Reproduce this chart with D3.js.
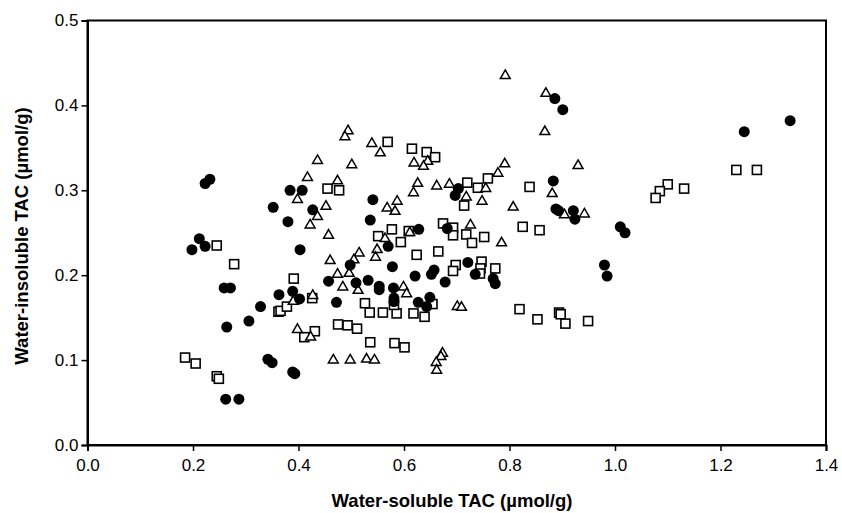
<!DOCTYPE html>
<html><head><meta charset="utf-8">
<script src="https://cdn.jsdelivr.net/npm/d3@7"></script>
<style>body{margin:0;background:#fff}svg{display:block}</style>
</head><body>
<script>
const xTicks = [0,0.2,0.4,0.6,0.8,1.0,1.2,1.4];
const yTicks = [0,0.1,0.2,0.3,0.4,0.5];
const xTitle = "Water-soluble TAC (µmol/g)";
const yTitle = "Water-insoluble TAC (µmol/g)";

const circles = [
[0.223,0.308],[0.232,0.313],[0.352,0.280],[0.212,0.243],[0.223,0.234],[0.198,0.230],
[0.259,0.185],[0.271,0.185],[0.328,0.163],[0.363,0.177],[0.306,0.146],[0.264,0.139],
[0.262,0.054],[0.287,0.054],[0.342,0.101],[0.350,0.097],[0.384,0.300],[0.407,0.300],
[0.427,0.277],[0.380,0.263],[0.541,0.289],[0.536,0.265],[0.403,0.230],[0.628,0.254],
[0.570,0.234],[0.498,0.212],[0.578,0.210],[0.657,0.206],[0.652,0.201],[0.621,0.199],
[0.678,0.192],[0.457,0.193],[0.509,0.191],[0.532,0.194],[0.553,0.187],[0.553,0.183],
[0.580,0.185],[0.389,0.181],[0.402,0.172],[0.472,0.168],[0.581,0.173],[0.581,0.169],
[0.627,0.168],[0.643,0.163],[0.649,0.174],[0.389,0.086],[0.393,0.084],[0.886,0.408],
[0.901,0.395],[0.703,0.302],[0.697,0.294],[0.883,0.311],[0.888,0.278],[0.893,0.276],
[0.921,0.276],[0.924,0.266],[0.682,0.255],[1.010,0.257],[1.019,0.250],[0.721,0.215],
[0.735,0.201],[0.769,0.196],[0.773,0.190],[0.980,0.212],[0.985,0.199],[1.245,0.369],
[1.332,0.382]
];
const squares = [
[0.245,0.235],[0.278,0.213],[0.362,0.157],[0.185,0.103],[0.205,0.096],[0.245,0.081],
[0.249,0.078],[0.569,0.357],[0.615,0.349],[0.643,0.345],[0.659,0.339],[0.455,0.302],
[0.477,0.300],[0.674,0.261],[0.577,0.254],[0.609,0.252],[0.551,0.246],[0.594,0.239],
[0.624,0.224],[0.665,0.228],[0.391,0.196],[0.426,0.173],[0.526,0.167],[0.366,0.158],
[0.378,0.163],[0.535,0.156],[0.560,0.156],[0.586,0.155],[0.581,0.165],[0.618,0.155],
[0.639,0.151],[0.654,0.166],[0.411,0.127],[0.431,0.134],[0.475,0.142],[0.493,0.141],
[0.511,0.137],[0.536,0.121],[0.582,0.120],[0.601,0.115],[0.759,0.314],[0.720,0.309],
[0.740,0.303],[0.714,0.282],[0.838,0.304],[0.693,0.256],[0.825,0.257],[0.857,0.253],
[0.693,0.247],[0.718,0.248],[0.729,0.238],[0.752,0.245],[0.698,0.212],[0.693,0.205],
[0.747,0.216],[0.745,0.208],[0.744,0.202],[0.773,0.208],[0.819,0.160],[0.853,0.148],
[0.894,0.156],[0.897,0.154],[0.906,0.143],[0.949,0.146],[1.230,0.324],[1.269,0.324],
[1.100,0.307],[1.085,0.299],[1.077,0.291],[1.131,0.302]
];
const triangles = [
[0.494,0.370],[0.488,0.363],[0.539,0.355],[0.555,0.344],[0.619,0.332],[0.645,0.334],
[0.637,0.328],[0.436,0.335],[0.501,0.330],[0.417,0.315],[0.474,0.311],[0.398,0.289],
[0.626,0.308],[0.618,0.297],[0.662,0.305],[0.686,0.307],[0.452,0.281],[0.436,0.269],
[0.422,0.259],[0.587,0.287],[0.568,0.279],[0.583,0.275],[0.457,0.247],[0.611,0.250],
[0.564,0.243],[0.549,0.230],[0.546,0.221],[0.515,0.226],[0.460,0.217],[0.505,0.218],
[0.474,0.201],[0.496,0.202],[0.599,0.186],[0.484,0.186],[0.513,0.182],[0.605,0.178],
[0.427,0.176],[0.390,0.169],[0.398,0.136],[0.423,0.127],[0.466,0.100],[0.498,0.100],
[0.529,0.101],[0.544,0.100],[0.673,0.108],[0.670,0.104],[0.661,0.097],[0.662,0.088],
[0.792,0.435],[0.869,0.414],[0.867,0.369],[0.791,0.331],[0.778,0.320],[0.930,0.329],
[0.755,0.302],[0.718,0.292],[0.748,0.287],[0.881,0.296],[0.807,0.280],[0.904,0.271],
[0.942,0.272],[0.726,0.259],[0.785,0.238],[0.701,0.163],[0.709,0.162]
];

const W = 842, H = 513;
const m = {left: 87.5, right: 826, top: 20.5, bottom: 445};
const x = d3.scaleLinear().domain([0,1.4]).range([m.left, m.right]);
const y = d3.scaleLinear().domain([0,0.5]).range([m.bottom, m.top]);

const svg = d3.select("body").append("svg").attr("width", W).attr("height", H);

svg.append("rect").attr("x", m.left).attr("y", m.top)
  .attr("width", m.right - m.left).attr("height", m.bottom - m.top)
  .attr("fill", "none").attr("stroke", "#000").attr("stroke-width", 2);

const font = "'Liberation Sans', Arial, sans-serif";
const fmt = d3.format(".1f");
const xAxis = svg.append("g").attr("transform", `translate(0,${m.bottom})`)
  .call(d3.axisBottom(x).tickValues(xTicks).tickFormat(fmt).tickSize(6).tickPadding(8));
const yAxis = svg.append("g").attr("transform", `translate(${m.left},0)`)
  .call(d3.axisLeft(y).tickValues(yTicks).tickFormat(fmt).tickSize(6).tickPadding(3));
[xAxis, yAxis].forEach(g => {
  g.select(".domain").attr("stroke", "#000").attr("stroke-width", 2);
  g.selectAll(".tick line").attr("stroke", "#000").attr("stroke-width", 1.5);
  g.selectAll(".tick text").attr("fill", "#000")
    .style("font-family", font).style("font-size", "17px");
});

svg.append("text").attr("x", 452).attr("y", 507)
  .attr("text-anchor", "middle").style("font-family", font)
  .style("font-size", "18.5px").style("font-weight", "bold").text(xTitle);
svg.append("text").attr("transform", `translate(28,${236}) rotate(-90)`)
  .attr("text-anchor", "middle").style("font-family", font)
  .style("font-size", "18.5px").style("font-weight", "bold").text(yTitle);

const pts = svg.append("g");
pts.selectAll("rect.sq").data(squares).enter().append("rect").attr("class","sq")
  .attr("x", d => x(d[0]) - 4.5).attr("y", d => y(d[1]) - 4.5)
  .attr("width", 9).attr("height", 9)
  .attr("fill", "#fff").attr("stroke", "#000").attr("stroke-width", 1.6);
const tri = d3.symbol().type(d3.symbolTriangle).size(42);
pts.selectAll("path.tr").data(triangles).enter().append("path").attr("class","tr")
  .attr("d", tri).attr("transform", d => `translate(${x(d[0])},${y(d[1])})`)
  .attr("fill", "#fff").attr("stroke", "#000").attr("stroke-width", 1.5);
pts.selectAll("circle").data(circles).enter().append("circle")
  .attr("cx", d => x(d[0])).attr("cy", d => y(d[1])).attr("r", 5.5).attr("fill", "#000");
</script>
</body></html>
